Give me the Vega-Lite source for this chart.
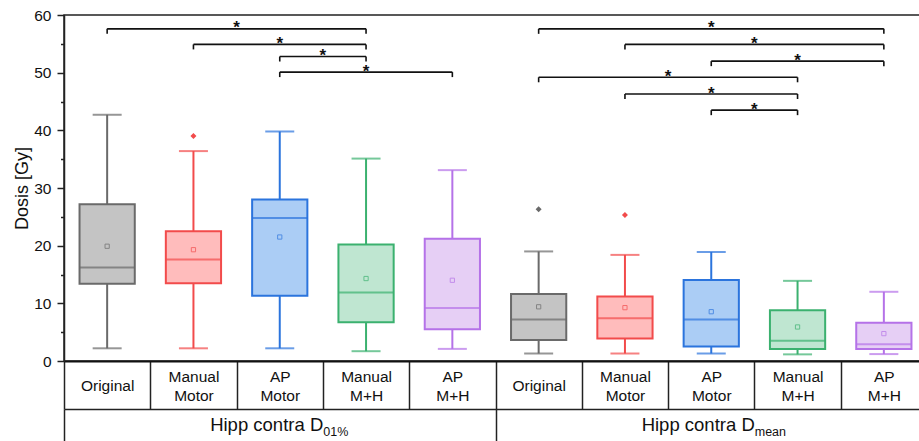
{
  "$schema": "https://vega.github.io/schema/vega-lite/v6.json",
  "width": 863,
  "height": 346,
  "autosize": {"type": "none"},
  "padding": {"left": 64, "top": 15, "right": 0, "bottom": 80},
  "background": "white",
  "config": {
    "font": "Liberation Sans",
    "view": {"stroke": "#222", "strokeWidth": 1.5}
  },
  "datasets": {
    "boxes": [
      {"key": "D01|Original", "method": "Original", "low": 2.2, "q1": 13.4, "median": 16.2, "q3": 27.2, "high": 42.7, "mean": 19.9},
      {"key": "D01|Manual Motor", "method": "Manual Motor", "low": 2.2, "q1": 13.5, "median": 17.6, "q3": 22.5, "high": 36.4, "mean": 19.3},
      {"key": "D01|AP Motor", "method": "AP Motor", "low": 2.2, "q1": 11.3, "median": 24.8, "q3": 28.0, "high": 39.8, "mean": 21.5},
      {"key": "D01|Manual M+H", "method": "Manual M+H", "low": 1.7, "q1": 6.7, "median": 11.9, "q3": 20.2, "high": 35.1, "mean": 14.3},
      {"key": "D01|AP M+H", "method": "AP M+H", "low": 2.1, "q1": 5.5, "median": 9.2, "q3": 21.2, "high": 33.1, "mean": 14.0},
      {"key": "Dmean|Original", "method": "Original", "low": 1.3, "q1": 3.65, "median": 7.2, "q3": 11.6, "high": 19.0, "mean": 9.4},
      {"key": "Dmean|Manual Motor", "method": "Manual Motor", "low": 1.3, "q1": 3.9, "median": 7.4, "q3": 11.2, "high": 18.4, "mean": 9.25},
      {"key": "Dmean|AP Motor", "method": "AP Motor", "low": 1.3, "q1": 2.5, "median": 7.2, "q3": 14.05, "high": 18.9, "mean": 8.55},
      {"key": "Dmean|Manual M+H", "method": "Manual M+H", "low": 1.15, "q1": 2.1, "median": 3.5, "q3": 8.8, "high": 13.9, "mean": 5.9},
      {"key": "Dmean|AP M+H", "method": "AP M+H", "low": 1.2, "q1": 2.1, "median": 2.9, "q3": 6.65, "high": 12.0, "mean": 4.75}
    ],
    "outliers": [
      {"key": "D01|Manual Motor", "method": "Manual Motor", "value": 39.0},
      {"key": "Dmean|Original", "method": "Original", "value": 26.3},
      {"key": "Dmean|Manual Motor", "method": "Manual Motor", "value": 25.3}
    ],
    "brackets": [
      {"from": "D01|Original", "to": "D01|Manual M+H", "level": 57.6, "label": "*", "starAt": "D01|AP Motor", "starSide": "edge"},
      {"from": "D01|Manual Motor", "to": "D01|Manual M+H", "level": 54.9, "label": "*", "starAt": "D01|AP Motor", "starSide": "center"},
      {"from": "D01|AP Motor", "to": "D01|Manual M+H", "level": 52.8, "label": "*", "starAt": "D01|Manual M+H", "starSide": "edge"},
      {"from": "D01|AP Motor", "to": "D01|AP M+H", "level": 50.1, "label": "*", "starAt": "D01|Manual M+H", "starSide": "center"},
      {"from": "Dmean|Original", "to": "Dmean|AP M+H", "level": 57.6, "label": "*", "starAt": "Dmean|AP Motor", "starSide": "center"},
      {"from": "Dmean|Manual Motor", "to": "Dmean|AP M+H", "level": 54.9, "label": "*", "starAt": "Dmean|Manual M+H", "starSide": "edge"},
      {"from": "Dmean|AP Motor", "to": "Dmean|AP M+H", "level": 52.0, "label": "*", "starAt": "Dmean|Manual M+H", "starSide": "center"},
      {"from": "Dmean|Original", "to": "Dmean|Manual M+H", "level": 49.2, "label": "*", "starAt": "Dmean|AP Motor", "starSide": "edge"},
      {"from": "Dmean|Manual Motor", "to": "Dmean|Manual M+H", "level": 46.3, "label": "*", "starAt": "Dmean|AP Motor", "starSide": "center"},
      {"from": "Dmean|AP Motor", "to": "Dmean|Manual M+H", "level": 43.5, "label": "*", "starAt": "Dmean|Manual M+H", "starSide": "edge"}
    ],
    "groups": [
      {"metric": "01%"},
      {"metric": "mean"}
    ]
  },
  "layer": [
    {
      "data": {"name": "boxes"},
      "mark": {"type": "rule", "strokeWidth": 2},
      "encoding": {
        "x": {
          "field": "key", "type": "nominal",
          "scale": {"domain": ["D01|Original","D01|Manual Motor","D01|AP Motor","D01|Manual M+H","D01|AP M+H","Dmean|Original","Dmean|Manual Motor","Dmean|AP Motor","Dmean|Manual M+H","Dmean|AP M+H"], "paddingInner": 0, "paddingOuter": 0},
          "axis": {
            "orient": "bottom", "title": null,
            "domain": true, "domainColor": "#111", "domainWidth": 2,
            "ticks": true, "tickBand": "extent", "tickSize": 48, "tickColor": "#222", "tickWidth": 1.5,
            "labelExpr": "!datum.value ? '' : (length(split(split(datum.value, '|')[1], ' ')) > 1 ? [split(split(datum.value, '|')[1], ' ')[0], '\u200b', split(split(datum.value, '|')[1], ' ')[1]] : ['\u200b', split(datum.value, '|')[1]])",
            "labelAngle": 0, "labelFontSize": 15.5, "labelColor": "#111",
            "labelPadding": -33, "labelBaseline": "middle", "labelLineHeight": 9.5,
            "labelOverlap": false, "labelBound": false, "labelFlush": false
          }
        },
        "y": {
          "field": "low", "type": "quantitative",
          "scale": {"domain": [0, 60], "nice": false, "zero": false},
          "axis": {
            "values": [0, 10, 20, 30, 40, 50, 60],
            "tickSize": 7,
            "tickColor": "#222", "tickWidth": 1.5,
            "domainColor": "#222", "domainWidth": 1.5,
            "labelFontSize": 15.5, "labelColor": "#111", "labelPadding": 6,
            "grid": false,
            "title": "Dosis [Gy]", "titleFontSize": 18, "titleFontWeight": "normal", "titleColor": "#111", "titlePadding": 2
          }
        },
        "y2": {"field": "high"},
        "stroke": {
          "field": "method", "type": "nominal", "legend": null,
          "scale": {"domain": ["Original","Manual Motor","AP Motor","Manual M+H","AP M+H"], "range": ["#6a6a6a","#f24b4b","#2b74dd","#3bb16f","#b572e8"]}
        }
      }
    },
    {
      "data": {"name": "boxes"},
      "mark": {"type": "tick", "thickness": 2, "size": 29},
      "encoding": {
        "x": {"field": "key", "type": "nominal", "axis": null, "scale": {"domain": ["D01|Original","D01|Manual Motor","D01|AP Motor","D01|Manual M+H","D01|AP M+H","Dmean|Original","Dmean|Manual Motor","Dmean|AP Motor","Dmean|Manual M+H","Dmean|AP M+H"], "paddingInner": 0, "paddingOuter": 0}},
        "y": {"field": "low", "type": "quantitative", "scale": {"domain": [0, 60], "nice": false, "zero": false},
          "axis": {"orient": "left", "values": [5, 15, 25, 35, 45, 55], "tickSize": 3.5, "tickColor": "#222", "tickWidth": 1.5, "domain": false, "labels": false, "grid": false, "title": null}},
        "color": {
          "field": "method", "type": "nominal", "legend": null,
          "scale": {"domain": ["Original","Manual Motor","AP Motor","Manual M+H","AP M+H"], "range": ["#6a6a6a","#f24b4b","#2b74dd","#3bb16f","#b572e8"]}
        }
      }
    },
    {
      "data": {"name": "boxes"},
      "mark": {"type": "tick", "thickness": 2, "size": 29},
      "encoding": {
        "x": {"field": "key", "type": "nominal", "axis": null, "scale": {"domain": ["D01|Original","D01|Manual Motor","D01|AP Motor","D01|Manual M+H","D01|AP M+H","Dmean|Original","Dmean|Manual Motor","Dmean|AP Motor","Dmean|Manual M+H","Dmean|AP M+H"], "paddingInner": 0, "paddingOuter": 0}},
        "y": {"field": "high", "type": "quantitative", "axis": null, "scale": {"domain": [0, 60], "nice": false, "zero": false}},
        "color": {"field": "method", "type": "nominal", "legend": null}
      }
    },
    {
      "data": {"name": "boxes"},
      "mark": {"type": "bar", "width": {"band": 0.64}, "strokeWidth": 2},
      "encoding": {
        "x": {"field": "key", "type": "nominal", "axis": null, "scale": {"domain": ["D01|Original","D01|Manual Motor","D01|AP Motor","D01|Manual M+H","D01|AP M+H","Dmean|Original","Dmean|Manual Motor","Dmean|AP Motor","Dmean|Manual M+H","Dmean|AP M+H"], "paddingInner": 0, "paddingOuter": 0}},
        "y": {"field": "q1", "type": "quantitative", "axis": null, "scale": {"domain": [0, 60], "nice": false, "zero": false}},
        "y2": {"field": "q3"},
        "fill": {
          "field": "method", "type": "nominal", "legend": null,
          "scale": {"domain": ["Original","Manual Motor","AP Motor","Manual M+H","AP M+H"], "range": ["#c4c4c4","#ffbcbc","#abcdf5","#bfe6d1","#e6cff5"]}
        },
        "stroke": {"field": "method", "type": "nominal", "legend": null}
      }
    },
    {
      "data": {"name": "boxes"},
      "mark": {"type": "tick", "thickness": 2, "size": 55},
      "encoding": {
        "x": {"field": "key", "type": "nominal", "axis": null, "scale": {"domain": ["D01|Original","D01|Manual Motor","D01|AP Motor","D01|Manual M+H","D01|AP M+H","Dmean|Original","Dmean|Manual Motor","Dmean|AP Motor","Dmean|Manual M+H","Dmean|AP M+H"], "paddingInner": 0, "paddingOuter": 0}},
        "y": {"field": "median", "type": "quantitative", "axis": null, "scale": {"domain": [0, 60], "nice": false, "zero": false}},
        "color": {"field": "method", "type": "nominal", "legend": null}
      }
    },
    {
      "data": {"name": "boxes"},
      "mark": {"type": "point", "shape": "square", "filled": false, "size": 18, "strokeWidth": 1},
      "encoding": {
        "x": {"field": "key", "type": "nominal", "axis": null, "scale": {"domain": ["D01|Original","D01|Manual Motor","D01|AP Motor","D01|Manual M+H","D01|AP M+H","Dmean|Original","Dmean|Manual Motor","Dmean|AP Motor","Dmean|Manual M+H","Dmean|AP M+H"], "paddingInner": 0, "paddingOuter": 0}},
        "y": {"field": "mean", "type": "quantitative", "axis": null, "scale": {"domain": [0, 60], "nice": false, "zero": false}},
        "color": {"field": "method", "type": "nominal", "legend": null}
      }
    },
    {
      "data": {"name": "outliers"},
      "mark": {"type": "point", "shape": "diamond", "filled": true, "size": 36, "opacity": 1},
      "encoding": {
        "x": {"field": "key", "type": "nominal", "axis": null, "scale": {"domain": ["D01|Original","D01|Manual Motor","D01|AP Motor","D01|Manual M+H","D01|AP M+H","Dmean|Original","Dmean|Manual Motor","Dmean|AP Motor","Dmean|Manual M+H","Dmean|AP M+H"], "paddingInner": 0, "paddingOuter": 0}},
        "y": {"field": "value", "type": "quantitative", "axis": null, "scale": {"domain": [0, 60], "nice": false, "zero": false}},
        "color": {"field": "method", "type": "nominal", "legend": null}
      }
    },
    {
      "data": {"name": "brackets"},
      "mark": {"type": "rule", "strokeWidth": 1.6, "color": "#111"},
      "encoding": {
        "x": {"field": "from", "type": "nominal", "axis": null, "bandPosition": 0.5, "scale": {"domain": ["D01|Original","D01|Manual Motor","D01|AP Motor","D01|Manual M+H","D01|AP M+H","Dmean|Original","Dmean|Manual Motor","Dmean|AP Motor","Dmean|Manual M+H","Dmean|AP M+H"], "paddingInner": 0, "paddingOuter": 0}},
        "x2": {"field": "to", "bandPosition": 0.5},
        "y": {"field": "level", "type": "quantitative", "axis": null, "scale": {"domain": [0, 60], "nice": false, "zero": false}}
      }
    },
    {
      "data": {"name": "brackets"},
      "mark": {"type": "tick", "orient": "vertical", "size": 5, "thickness": 1.6, "yOffset": 2.5, "color": "#111", "opacity": 1},
      "encoding": {
        "x": {"field": "from", "type": "nominal", "axis": null, "scale": {"domain": ["D01|Original","D01|Manual Motor","D01|AP Motor","D01|Manual M+H","D01|AP M+H","Dmean|Original","Dmean|Manual Motor","Dmean|AP Motor","Dmean|Manual M+H","Dmean|AP M+H"], "paddingInner": 0, "paddingOuter": 0}},
        "y": {"field": "level", "type": "quantitative", "axis": null, "scale": {"domain": [0, 60], "nice": false, "zero": false}}
      }
    },
    {
      "data": {"name": "brackets"},
      "mark": {"type": "tick", "orient": "vertical", "size": 5, "thickness": 1.6, "yOffset": 2.5, "color": "#111", "opacity": 1},
      "encoding": {
        "x": {"field": "to", "type": "nominal", "axis": null, "scale": {"domain": ["D01|Original","D01|Manual Motor","D01|AP Motor","D01|Manual M+H","D01|AP M+H","Dmean|Original","Dmean|Manual Motor","Dmean|AP Motor","Dmean|Manual M+H","Dmean|AP M+H"], "paddingInner": 0, "paddingOuter": 0}},
        "y": {"field": "level", "type": "quantitative", "axis": null, "scale": {"domain": [0, 60], "nice": false, "zero": false}}
      }
    },
    {
      "data": {"name": "brackets"},
      "transform": [{"filter": "datum.starSide === 'center'"}],
      "mark": {"type": "text", "fontSize": 17, "fontWeight": "bold", "baseline": "alphabetic", "dy": 4.5, "color": "#111"},
      "encoding": {
        "x": {"field": "starAt", "type": "nominal", "axis": null, "scale": {"domain": ["D01|Original","D01|Manual Motor","D01|AP Motor","D01|Manual M+H","D01|AP M+H","Dmean|Original","Dmean|Manual Motor","Dmean|AP Motor","Dmean|Manual M+H","Dmean|AP M+H"], "paddingInner": 0, "paddingOuter": 0}},
        "y": {"field": "level", "type": "quantitative", "axis": null, "scale": {"domain": [0, 60], "nice": false, "zero": false}},
        "text": {"field": "label"}
      }
    },
    {
      "data": {"name": "brackets"},
      "transform": [{"filter": "datum.starSide === 'edge'"}],
      "mark": {"type": "text", "fontSize": 17, "fontWeight": "bold", "baseline": "alphabetic", "dy": 4.5, "dx": -43.15, "color": "#111"},
      "encoding": {
        "x": {"field": "starAt", "type": "nominal", "axis": null, "scale": {"domain": ["D01|Original","D01|Manual Motor","D01|AP Motor","D01|Manual M+H","D01|AP M+H","Dmean|Original","Dmean|Manual Motor","Dmean|AP Motor","Dmean|Manual M+H","Dmean|AP M+H"], "paddingInner": 0, "paddingOuter": 0}},
        "y": {"field": "level", "type": "quantitative", "axis": null, "scale": {"domain": [0, 60], "nice": false, "zero": false}},
        "text": {"field": "label"}
      }
    },
    {
      "data": {"name": "groups"},
      "mark": {"type": "point", "opacity": 0},
      "encoding": {
        "x": {
          "field": "metric", "type": "nominal",
          "scale": {"domain": ["01%", "mean"], "paddingInner": 0, "paddingOuter": 0},
          "axis": {
            "orient": "bottom", "offset": 48, "title": null,
            "domain": true, "domainColor": "#222", "domainWidth": 1.5,
            "ticks": true, "tickBand": "extent", "tickSize": 32, "tickColor": "#222", "tickWidth": 1.5,
            "labelExpr": "datum.value ? 'Hipp contra D' : ''",
            "labelAngle": 0, "labelFontSize": 18.5, "labelColor": "#111",
            "labelAlign": "right", "labelOffset": 43,
            "labelPadding": -17, "labelBaseline": "middle",
            "labelOverlap": false, "labelBound": false, "labelFlush": false
          }
        }
      }
    },
    {
      "data": {"name": "groups"},
      "mark": {"type": "point", "opacity": 0},
      "encoding": {
        "x": {
          "field": "metric", "type": "nominal",
          "scale": {"domain": ["01%", "mean"], "paddingInner": 0, "paddingOuter": 0},
          "axis": {
            "orient": "bottom", "offset": 48, "title": null,
            "domain": false, "ticks": false, "tickSize": 0,
            "labelAngle": 0, "labelFontSize": 12.5, "labelColor": "#111",
            "labelAlign": "left", "labelOffset": 43,
            "labelPadding": 22, "labelBaseline": "middle",
            "labelOverlap": false, "labelBound": false, "labelFlush": false
          }
        }
      }
    }
  ],
  "resolve": {"scale": {"x": "independent", "y": "independent"}, "axis": {"x": "independent", "y": "independent"}}
}
